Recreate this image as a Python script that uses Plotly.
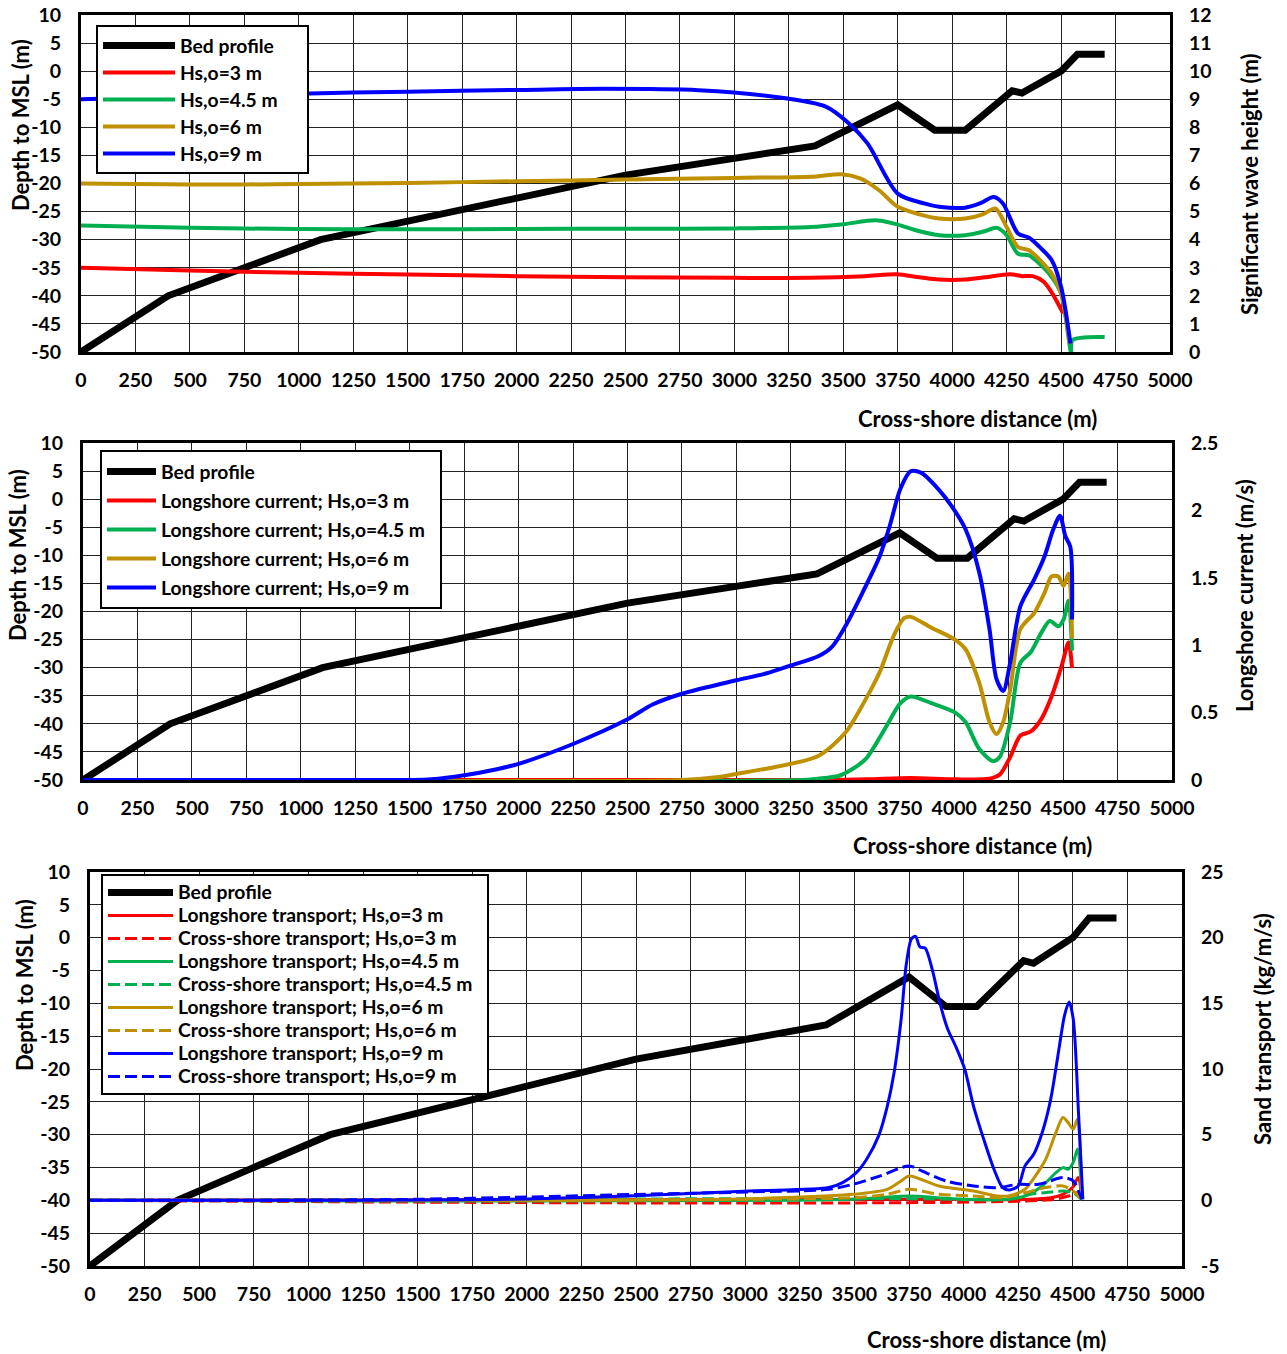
import plotly.graph_objects as go

W, H = 1287, 1354
FONT = "Lato"

# bed profile (shared by the three panels)
bed_x = [0, 400, 1100, 2500, 3370, 3750, 3920, 4060, 4275, 4320, 4500, 4575, 4700]
bed_z = [-50, -40, -30, -18.5, -13.3, -6, -10.5, -10.5, -3.5, -3.9, 0, 3, 3]

# panel 1: significant wave height (m)
hs3_x = [0, 500, 1000, 1500, 2000, 2500, 3000, 3350, 3600, 3745, 3850, 3940, 4060, 4150, 4267, 4320, 4370, 4420, 4460, 4510]
hs3_y = [3.0, 2.9, 2.82, 2.76, 2.7, 2.66, 2.64, 2.64, 2.7, 2.77, 2.66, 2.58, 2.58, 2.66, 2.77, 2.7, 2.7, 2.5, 2.08, 1.37]
hs45_x = [0, 500, 1000, 1500, 2000, 2500, 3000, 3350, 3500, 3647, 3733, 3850, 3940, 4060, 4140, 4207, 4250, 4302,
          4353, 4400, 4457, 4500, 4538, 4545, 4552, 4700]
hs45_y = [4.5, 4.42, 4.38, 4.37, 4.38, 4.39, 4.4, 4.45, 4.55, 4.69, 4.57, 4.3, 4.16, 4.16, 4.28, 4.42, 4.16, 3.5,
          3.44, 3.15, 2.67, 2.08, 0.3, 0.0, 0.42, 0.53]
hs6_x = [0, 500, 1000, 1500, 2000, 2500, 3000, 3353, 3491, 3577, 3664, 3750, 3850, 3940, 4060, 4140, 4198, 4250,
         4302, 4353, 4400, 4457, 4500, 4540]
hs6_y = [6.0, 5.96, 5.98, 6.02, 6.08, 6.14, 6.2, 6.24, 6.33, 6.18, 5.76, 5.17, 4.9, 4.75, 4.75, 4.9, 5.11, 4.45,
         3.74, 3.62, 3.3, 2.79, 2.08, 0.3]
hs9_x = [0, 500, 1000, 1500, 2000, 2400, 2836, 3181, 3422, 3526, 3612, 3750, 3871, 3940, 4060, 4130, 4190, 4233,
         4302, 4353, 4400, 4457, 4500, 4543]
hs9_y = [9.0, 9.1, 9.2, 9.27, 9.33, 9.37, 9.32, 9.09, 8.73, 8.14, 7.42, 5.64, 5.29, 5.17, 5.14, 5.3, 5.52, 5.29,
         4.22, 4.07, 3.75, 3.27, 2.32, 0.3]

# panel 2: longshore current (m/s)
v3_x = [0, 3400, 3600, 3800, 4005, 4162, 4209, 4257, 4304, 4352, 4399, 4447, 4494, 4525, 4541]
v3_y = [0, 0, 0.005, 0.015, 0.005, 0.01, 0.04, 0.17, 0.33, 0.36, 0.45, 0.62, 0.85, 1.02, 0.83]
v45_x = [0, 3300, 3373, 3468, 3531, 3594, 3689, 3753, 3800, 3895, 4005, 4052, 4115, 4178, 4209, 4257, 4304, 4352,
         4399, 4439, 4478, 4502, 4525, 4541]
v45_y = [0, 0, 0.01, 0.03, 0.08, 0.156, 0.40, 0.57, 0.62, 0.57, 0.5, 0.43, 0.23, 0.14, 0.17, 0.43, 0.87, 0.95,
         1.09, 1.18, 1.14, 1.19, 1.33, 0.96]
v6_x = [0, 2750, 2906, 3000, 3250, 3378, 3500, 3594, 3658, 3722, 3770, 3800, 3895, 4005, 4052, 4115, 4162, 4194,
        4225, 4257, 4304, 4368, 4415, 4447, 4478, 4502, 4525, 4541]
v6_y = [0, 0, 0.02, 0.045, 0.12, 0.18, 0.35, 0.60, 0.80, 1.07, 1.20, 1.21, 1.13, 1.04, 0.97, 0.72, 0.43, 0.34,
        0.43, 0.67, 1.12, 1.24, 1.39, 1.51, 1.51, 1.44, 1.53, 1.05]
v9_x = [0, 1000, 1500, 1600, 1750, 1900, 2000, 2250, 2500, 2615, 2750, 3000, 3135, 3250, 3378, 3440, 3500, 3579,
        3658, 3705, 3753, 3800, 3847, 3926, 3989, 4052, 4115, 4162, 4194, 4225, 4257, 4304, 4368, 4415, 4455, 4486,
        4510, 4533, 4541]
v9_y = [0, 0, 0, 0.005, 0.035, 0.08, 0.12, 0.267, 0.45, 0.56, 0.64, 0.74, 0.79, 0.85, 0.92, 0.99, 1.14, 1.39,
        1.66, 1.89, 2.16, 2.29, 2.28, 2.16, 2.03, 1.86, 1.54, 1.12, 0.75, 0.66, 0.87, 1.29, 1.49, 1.66, 1.86, 1.96,
        1.81, 1.73, 1.19]

# panel 3: sand transport (kg/m/s)
ql3_x = [0, 3750, 4250, 4400, 4455, 4500, 4525, 4541]
ql3_y = [0, 0.08, 0.05, 0.2, 0.46, 1.0, 1.73, 0.1]
qc3_x = [0, 4400, 4480, 4520, 4541]
qc3_y = [0, 0.05, 0.33, 0.58, 0.1]
ql45_x = [0, 3493, 3750, 3950, 4200, 4281, 4360, 4423, 4455, 4478, 4502, 4522, 4541]
ql45_y = [0, 0.08, 0.33, 0.13, 0.08, 0.33, 1.09, 2.11, 2.49, 2.37, 2.88, 3.9, 0.05]
qc45_x = [0, 3750, 4200, 4300, 4380, 4455, 4502, 4541]
qc45_y = [0, 0.13, 0.08, 0.45, 0.6, 0.71, 0.58, 0.05]
ql6_x = [0, 2000, 2500, 3020, 3493, 3651, 3714, 3750, 3887, 4045, 4155, 4218, 4281, 4329, 4376, 4423, 4455, 4478,
         4502, 4521, 4541]
ql6_y = [0, 0, 0.03, 0.13, 0.46, 0.84, 1.48, 1.86, 1.09, 0.71, 0.33, 0.38, 0.84, 1.86, 3.13, 5.17, 6.31, 5.93,
         5.42, 6.18, 0.08]
qc6_x = [0, 2500, 3020, 3493, 3651, 3750, 3887, 4045, 4180, 4281, 4376, 4455, 4502, 4541]
qc6_y = [0, 0.02, 0.08, 0.2, 0.46, 0.84, 0.46, 0.33, 0.2, 0.58, 0.97, 1.09, 0.71, 0.03]
ql9_x = [0, 1000, 1500, 2000, 2500, 3020, 3383, 3446, 3509, 3556, 3611, 3651, 3682, 3714, 3737, 3761, 3780, 3800,
         3824, 3856, 3895, 3927, 3966, 4005, 4045, 4092, 4139, 4179, 4210, 4250, 4281, 4321, 4360, 4399, 4439, 4462,
         4483, 4502, 4526, 4546]
ql9_y = [0, 0, 0.02, 0.1, 0.35, 0.71, 0.97, 1.35, 2.11, 3.13, 4.91, 7.2, 9.75, 13.8, 17.9, 19.9, 20.1, 19.3,
         19.2, 17.6, 14.8, 13.05, 11.65, 10.0, 7.2, 4.66, 2.37, 0.97, 0.79, 1.09, 2.62, 3.51, 5.17, 7.71, 11.78, 14.07,
         15.1, 13.8, 6.7, 0.08]
qc9_x = [0, 1000, 1500, 2000, 2500, 3020, 3383, 3493, 3619, 3750, 3808, 3919, 4045, 4155, 4250, 4344, 4455, 4502, 4541]
qc9_y = [0, 0.02, 0.08, 0.25, 0.45, 0.64, 0.84, 1.22, 1.86, 2.62, 2.24, 1.48, 1.09, 0.97, 1.22, 1.22, 1.73, 1.48, 0.08]

dist_ticks = list(range(0, 5001, 250))
depth_ticks = list(range(-50, 11, 5))
hs_ticks = list(range(0, 13))
v_ticks = [0, 0.5, 1, 1.5, 2, 2.5]
q_ticks = [-5, 0, 5, 10, 15, 20, 25]

RED, GREEN, GOLD, BLUE = "#FF0000", "#00B050", "#BF9000", "#0000FF"
TICK_SIZE = 19.5
LEGEND_TEXT = 19.3
LEGEND_PAD = {"legend": 5, "legend2": 2, "legend3": 2}


def px(x):
    return x / W


def py(y):
    return 1 - y / H


def tfont(size=TICK_SIZE):
    return dict(family=FONT, size=size, color="black", weight="bold")


def fmt(v):
    return "%g" % v


def xaxis(x0, x1, anchor):
    return dict(domain=[px(x0), px(x1)], anchor=anchor, range=[0, 5000], tickvals=dist_ticks,
                ticktext=[fmt(t) for t in dist_ticks], showgrid=True, gridcolor="#222", gridwidth=1,
                showline=True, linewidth=3, linecolor="black", mirror=True, zeroline=False,
                ticks="", ticklabelstandoff=9, tickfont=tfont(), layer="below traces", automargin=False,
                ticklabeloverflow="allow")


def depth_axis(y0, y1, anchor):
    return dict(domain=[py(y1), py(y0)], anchor=anchor, range=[-50, 10], tickvals=depth_ticks,
                ticktext=[fmt(t) for t in depth_ticks], showgrid=True, gridcolor="#222", gridwidth=1,
                showline=True, linewidth=3, linecolor="black", mirror=True, zeroline=False,
                ticks="", ticklabelstandoff=13, tickfont=tfont(), layer="below traces", automargin=False,
                ticklabeloverflow="allow")


def right_axis(over, anchor, rng, ticks):
    return dict(overlaying=over, anchor=anchor, side="right", range=rng, tickvals=ticks,
                ticktext=[fmt(t) for t in ticks], showgrid=False, zeroline=False, showline=False,
                ticks="", ticklabelstandoff=18, tickfont=tfont(), layer="below traces", automargin=False,
                ticklabeloverflow="allow")


fig = go.Figure()


def add(x, y, name, color, xa, ya, legend, width=4, dash=None, shape="spline"):
    label = '<span style="font-size:%spx">%s%s</span>' % (LEGEND_TEXT, name, "\u00a0" * LEGEND_PAD[legend])
    fig.add_trace(go.Scatter(
        x=x, y=y, name=label, mode="lines", xaxis=xa, yaxis=ya, legend=legend, legendgroup=legend + name,
        line=dict(color=color, width=width, dash=dash, shape=shape, smoothing=0.8)))


# panel 1
add(bed_x, bed_z, "Bed profile", "black", "x", "y", "legend", width=7, shape="linear")
add(hs3_x, hs3_y, "Hs,o=3 m", RED, "x", "y2", "legend")
add(hs45_x, hs45_y, "Hs,o=4.5 m", GREEN, "x", "y2", "legend")
add(hs6_x, hs6_y, "Hs,o=6 m", GOLD, "x", "y2", "legend")
add(hs9_x, hs9_y, "Hs,o=9 m", BLUE, "x", "y2", "legend")

# panel 2
add(bed_x, bed_z, "Bed profile", "black", "x2", "y3", "legend2", width=7, shape="linear")
add(v3_x, v3_y, "Longshore current; Hs,o=3 m", RED, "x2", "y4", "legend2")
add(v45_x, v45_y, "Longshore current; Hs,o=4.5 m", GREEN, "x2", "y4", "legend2")
add(v6_x, v6_y, "Longshore current; Hs,o=6 m", GOLD, "x2", "y4", "legend2")
add(v9_x, v9_y, "Longshore current; Hs,o=9 m", BLUE, "x2", "y4", "legend2")

# panel 3
DASH = "12px,5px"
add(bed_x, bed_z, "Bed profile", "black", "x3", "y5", "legend3", width=7, shape="linear")
add(ql3_x, ql3_y, "Longshore transport; Hs,o=3 m", RED, "x3", "y6", "legend3", width=3)
add(qc3_x, qc3_y, "Cross-shore transport; Hs,o=3 m", RED, "x3", "y6", "legend3", width=3, dash=DASH)
add(ql45_x, ql45_y, "Longshore transport; Hs,o=4.5 m", GREEN, "x3", "y6", "legend3", width=3)
add(qc45_x, qc45_y, "Cross-shore transport; Hs,o=4.5 m", GREEN, "x3", "y6", "legend3", width=3, dash=DASH)
add(ql6_x, ql6_y, "Longshore transport; Hs,o=6 m", GOLD, "x3", "y6", "legend3", width=3)
add(qc6_x, qc6_y, "Cross-shore transport; Hs,o=6 m", GOLD, "x3", "y6", "legend3", width=3, dash=DASH)
add(ql9_x, ql9_y, "Longshore transport; Hs,o=9 m", BLUE, "x3", "y6", "legend3", width=3)
add(qc9_x, qc9_y, "Cross-shore transport; Hs,o=9 m", BLUE, "x3", "y6", "legend3", width=3, dash=DASH)


def legend_box(x, y, row, itemwidth):
    # plotly legend rows are 1.3 * font size + 3 px high
    return dict(x=px(x), y=py(y), xanchor="left", yanchor="top", bgcolor="white", bordercolor="black",
                borderwidth=2, font=tfont((row - 3) / 1.3), traceorder="grouped", tracegroupgap=0,
                itemwidth=itemwidth)


def title(text, x, y, angle=0):
    return dict(text=text, x=px(x), y=py(y), xref="paper", yref="paper", showarrow=False,
                textangle=angle, font=tfont(22), xanchor="center", yanchor="middle")


fig.update_layout(
    width=W, height=H, autosize=False,
    margin=dict(l=0, r=0, t=0, b=0, pad=0, autoexpand=False),
    paper_bgcolor="white", plot_bgcolor="white",
    xaxis=xaxis(81, 1170, "y"),
    yaxis=depth_axis(15, 352, "x"),
    yaxis2=right_axis("y", "x", [0, 12], hs_ticks),
    xaxis2=xaxis(83, 1172, "y3"),
    yaxis3=depth_axis(443, 780, "x2"),
    yaxis4=right_axis("y3", "x2", [0, 2.5], v_ticks),
    xaxis3=xaxis(90, 1182, "y5"),
    yaxis5=depth_axis(872, 1266, "x3"),
    yaxis6=right_axis("y5", "x3", [-5, 25], q_ticks),
    legend=legend_box(96, 25, 27, 72),
    legend2=legend_box(100, 450, 29, 49),
    legend3=legend_box(101, 874, 23, 65),
    annotations=[
        title("Depth to MSL (m)", 20, 125, -90),
        title("Significant wave height (m)", 1250, 184, -90),
        title("Cross-shore distance (m)", 977, 418),
        title("Depth to MSL (m)", 17, 555, -90),
        title("Longshore current (m/s)", 1245, 596, -90),
        title("Cross-shore distance (m)", 972, 845),
        title("Depth to MSL (m)", 24, 985, -90),
        title("Sand transport (kg/m/s)", 1262, 1029, -90),
        title("Cross-shore distance (m)", 986, 1339),
    ],
)

# drop the default 8 px page margin so the figure fills the window exactly; no modebar
fig.write_html("out.html", config={"displayModeBar": False},
               post_script="document.body.style.margin = '0';")
